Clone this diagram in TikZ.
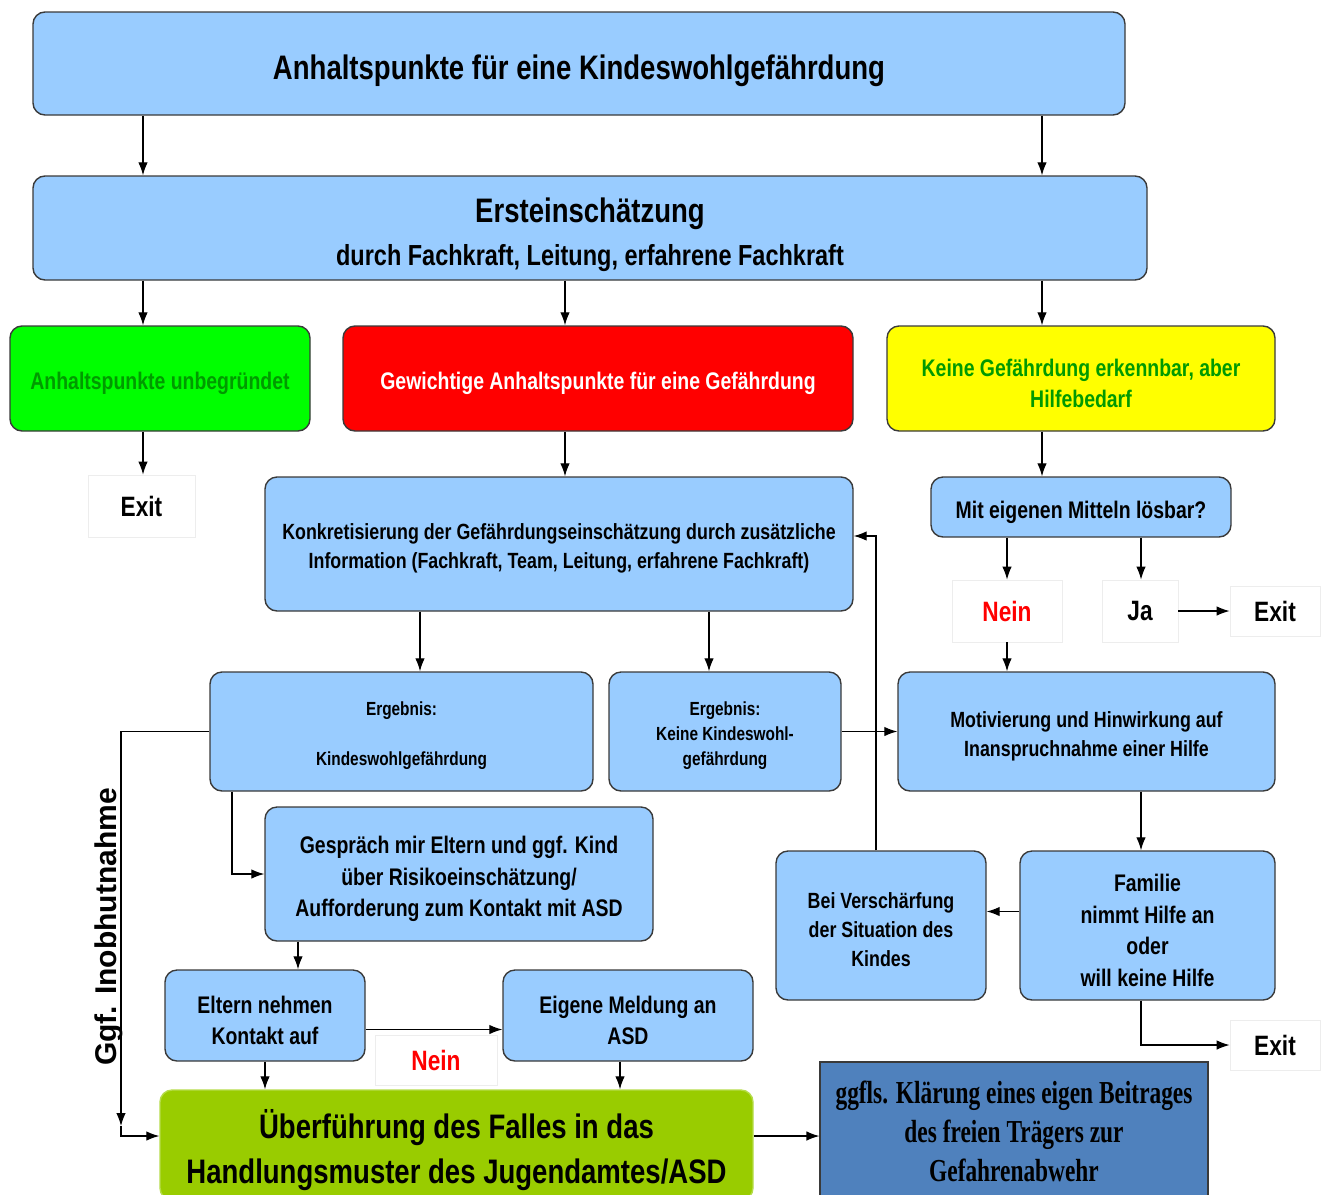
\documentclass[tikz,border=0pt]{standalone}
\usepackage{fontspec}
\newfontfamily\narrowsf{Liberation Sans}[FakeStretch=0.81]
\newfontfamily\widesf{Liberation Sans}
\newfontfamily\narrowrm{Liberation Serif}[FakeStretch=0.73]
\usetikzlibrary{arrows.meta, positioning}
\newcommand{\fsz}[1]{\fontsize{#1}{\dimexpr #1pt*132/100\relax}\selectfont}
\newcommand{\tp}{\rule{0pt}{1.13em}}
\definecolor{boxline}{HTML}{3A3A3A}
\definecolor{lightblue}{HTML}{99CCFF}
\definecolor{okgreen}{HTML}{00FF00}
\definecolor{alarmred}{HTML}{FF0000}
\definecolor{helpyellow}{HTML}{FFFF00}
\definecolor{textgreen}{HTML}{009A00}
\definecolor{asdgreen}{HTML}{99CC00}
\definecolor{asdgreenline}{HTML}{B5DC4A}
\definecolor{traegerblue}{HTML}{4F81BD}
\tikzset{
  box/.style={draw=boxline, line width=1.4pt, rounded corners=12pt, fill=lightblue,
    align=center, inner sep=2pt, font=\narrowsf\bfseries\fsz{#1}},
  box/.default=24,
  exitbox/.style={draw=black!7, line width=0.8pt, fill=white, align=center,
    font=\narrowsf\bfseries\fsz{28}},
  flow/.style={->, >={Latex[length=13pt,width=9.5pt]}, line width=1.2pt},
}

\begin{document}
\begin{tikzpicture}[x=1pt, y=-1pt]
        \useasboundingbox (0,0) rectangle (1324,1194);
        % Columns of the vertical connectors
        \coordinate (colA) at (143,0);
        \coordinate (colB) at (565,0);
        \coordinate (colC) at (1042,0);
        \coordinate (colD) at (420,0);
        \coordinate (colE) at (709,0);
        \coordinate (colF) at (876,0);
        \coordinate (colG) at (1141,0);
        \coordinate (colH) at (232,0);
        \coordinate (colI) at (298,0);
        \coordinate (inob) at (121,1126);
        % Top
        \node[box=34, minimum width=1092pt, minimum height=103pt] (top) at (579,63.5)
          {\tp Anhaltspunkte für eine Kindeswohlgefährdung};
        \node[box=29, minimum width=1114pt, minimum height=104pt] (erst) at (590,228)
          {{\fsz{34}\tp Ersteinschätzung}\\[5pt]durch Fachkraft, Leitung, erfahrene Fachkraft};
        % Three cases
        \node[box, fill=okgreen, text=textgreen, minimum width=300pt, minimum height=105pt] (unbeg) at (160,378.5)
          {\tp Anhaltspunkte unbegründet};
        \node[box, fill=alarmred, text=white, minimum width=510pt, minimum height=105pt] (gewicht) at (598,378.5)
          {\tp Gewichtige Anhaltspunkte für eine Gefährdung};
        \node[box, fill=helpyellow, text=textgreen, minimum width=388pt, minimum height=105pt] (hilfe) at (1081,378.5)
          {\tp Keine Gefährdung erkennbar, aber\\Hilfebedarf};
        \node[exitbox, minimum width=107pt, minimum height=62pt] (exitA) at (141.5,506) {Exit};
        % Middle part
        \node[box=22, minimum width=588pt, minimum height=134pt] (konkret) at (559,544)
          {\tp Konkretisierung der Gefährdungseinschätzung durch zusätzliche\\Information (Fachkraft, Team, Leitung, erfahrene Fachkraft)};
        \node[box, minimum width=300pt, minimum height=60pt] (mittel) at (1081,507)
          {\tp Mit eigenen Mitteln lösbar?};
        \node[exitbox, text=alarmred, minimum width=110pt, minimum height=62pt] (neinA) at (1007,611) {Nein};
        \node[exitbox, minimum width=76pt, minimum height=62pt] (ja) at (1140,611) {Ja};
        \node[exitbox, minimum width=90pt, minimum height=50pt] (exitB) at (1275,611) {Exit};
        \node[box=19, minimum width=383pt, minimum height=119pt] (ergwohl) at (401.5,731.5)
          {\tp Ergebnis:\\[25pt]Kindeswohlgefährdung};
        \node[box=19, minimum width=232pt, minimum height=119pt] (ergkeine) at (725,731.5)
          {\tp Ergebnis:\\Keine Kindeswohl-\\gefährdung};
        \node[box=22, minimum width=377pt, minimum height=119pt] (motiv) at (1086.5,731.5)
          {\tp Motivierung und Hinwirkung auf\\Inanspruchnahme einer Hilfe};
        \node[box, minimum width=388pt, minimum height=134pt] (gespraech) at (459,874)
          {\tp Gespräch mir Eltern und ggf. Kind\\über Risikoeinschätzung/\\Aufforderung zum Kontakt mit ASD};
        \node[box=22, minimum width=210pt, minimum height=149pt] (verschaerf) at (881,925.5)
          {\tp Bei Verschärfung\\der Situation des\\Kindes};
        \node[box, minimum width=255pt, minimum height=149pt] (familie) at (1147.5,925.5)
          {\tp Familie\\nimmt Hilfe an\\oder\\will keine Hilfe};
        \node[exitbox, minimum width=90pt, minimum height=50pt] (exitC) at (1275,1045) {Exit};
        % Bottom part
        \node[box, minimum width=200pt, minimum height=91pt] (eltern) at (265,1015.5)
          {\tp Eltern nehmen\\Kontakt auf};
        \node[box, minimum width=250pt, minimum height=91pt] (meldung) at (628,1015.5)
          {\tp Eigene Meldung an\\ASD};
        \node[exitbox, text=alarmred, minimum width=122pt, minimum height=50pt] (neinB) at (436,1060) {Nein};
        \node[box=34, fill=asdgreen, draw=asdgreenline, minimum width=593pt, minimum height=110pt] (asd) at (456.5,1145)
          {\tp Überführung des Falles in das\\Handlungsmuster des Jugendamtes/ASD};
        \node[draw=boxline, line width=1.2pt, fill=traegerblue, align=center, minimum width=388pt, minimum height=138pt,
          font=\narrowrm\bfseries\fontsize{32}{39}\selectfont] (traeger) at (1014,1131)
          {ggfls. Klärung eines eigen Beitrages\\des freien Trägers zur\\Gefahrenabwehr};
        % Side label
        \node[rotate=90, font=\widesf\bfseries\fsz{30}] (inobtext) at (109,927) {Ggf. Inobhutnahme};
        % Connectors
        \draw[flow] (top.south -| colA) -- (erst.north -| colA);
        \draw[flow] (top.south -| colC) -- (erst.north -| colC);
        \draw[flow] (erst.south -| colA) -- (unbeg.north -| colA);
        \draw[flow] (erst.south -| colB) -- (gewicht.north -| colB);
        \draw[flow] (erst.south -| colC) -- (hilfe.north -| colC);
        \draw[flow] (unbeg.south -| colA) -- (exitA.north -| colA);
        \draw[flow] (gewicht.south -| colB) -- (konkret.north -| colB);
        \draw[flow] (hilfe.south -| colC) -- (mittel.north -| colC);
        \draw[flow] (mittel.south -| neinA) -- (neinA.north);
        \draw[flow] (mittel.south -| colG) -- (ja.north -| colG);
        \draw[flow] (ja.east) -- (exitB.west);
        \draw[flow] (neinA.south) -- (motiv.north -| neinA);
        \draw[flow] (konkret.south -| colD) -- (ergwohl.north -| colD);
        \draw[flow] (konkret.south -| colE) -- (ergkeine.north -| colE);
        \draw[flow] (ergkeine.east) -- (motiv.west);
        \draw[flow] (verschaerf.north -| colF) |- ([yshift=8pt]konkret.east);
        \draw[flow] (motiv.south -| colG) -- (familie.north -| colG);
        \draw[flow] ([yshift=14pt]familie.west) -- ([yshift=14pt]familie.west -| verschaerf.east);
        \draw[flow] (familie.south -| colG) |- (exitC.west);
        \draw[flow] (ergwohl.south -| colH) |- (gespraech.west);
        \draw[flow] (ergwohl.west) -| (inob);
        \draw[flow] (inob) |- ([yshift=9pt]asd.west);
        \draw[flow] (gespraech.south -| colI) -- (eltern.north -| colI);
        \draw[flow] ([yshift=-14pt]eltern.east) -- ([yshift=-14pt]eltern.east -| meldung.west);
        \draw[flow] (eltern.south) -- (asd.north -| eltern);
        \draw[flow] (meldung.south -| colB) ++(55,0) coordinate (mdown) -- (asd.north -| mdown);
        \draw[flow] ([yshift=9pt]asd.east) -- ([yshift=9pt]asd.east -| traeger.west);
\end{tikzpicture}
\end{document}
